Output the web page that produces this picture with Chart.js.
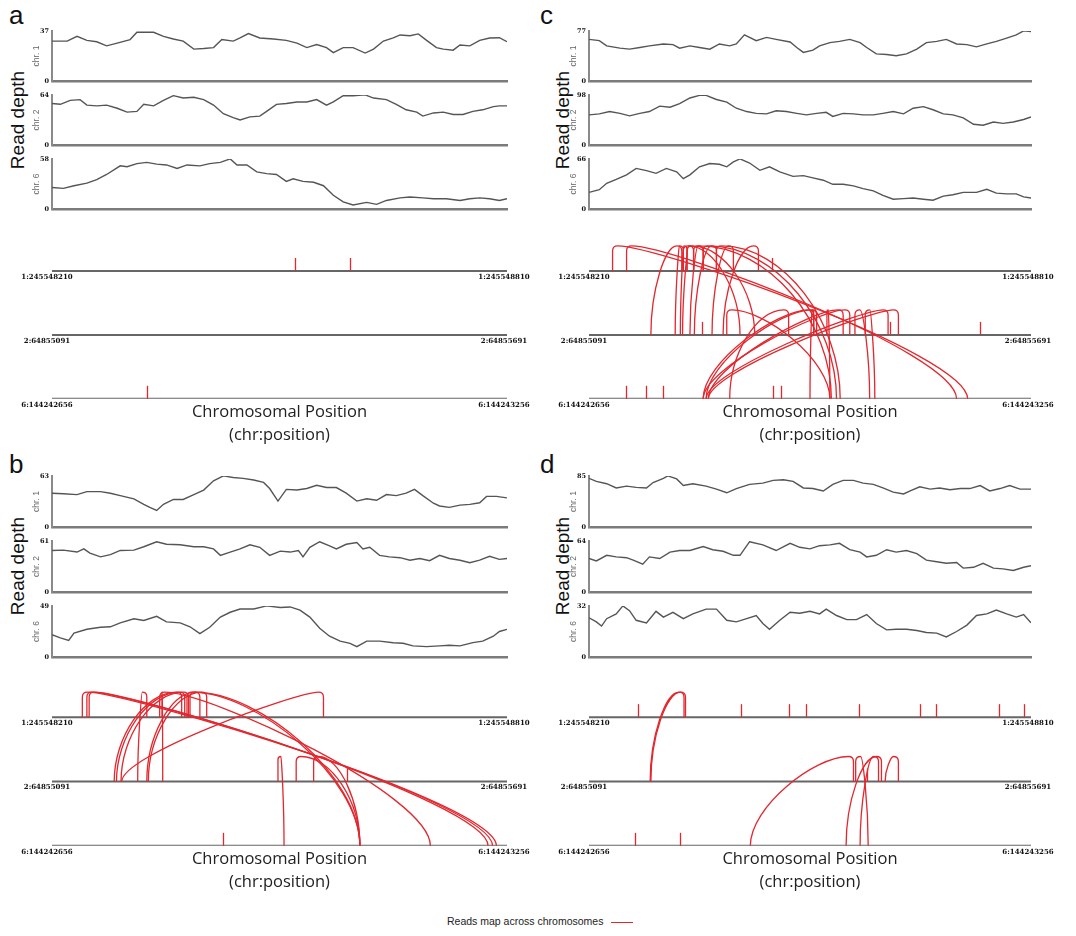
<!DOCTYPE html>
<html><head><meta charset="utf-8">
<script src="https://cdn.jsdelivr.net/npm/chart.js@4/dist/chart.umd.min.js"></script>
<style>
html,body{margin:0;padding:0;background:#fff}
body{width:1076px;height:936px;position:relative;overflow:hidden;font-family:'Liberation Sans',Arial,sans-serif}
canvas{position:absolute}
.plab{position:absolute;font-size:26px;line-height:26px;color:#111}
.rd{position:absolute;font-size:19px;color:#111;white-space:nowrap;transform:translate(-50%,-50%) rotate(-90deg)}
.leg{position:absolute;left:447px;top:915px;font-size:10.5px;color:#222;white-space:nowrap}
.leg span{display:inline-block;width:22px;height:0;border-top:1.5px solid #e3272e;vertical-align:middle;margin-left:8px}
</style></head>
<body>
<div class="plab" style="left:9px;top:2px">a</div>
<div class="plab" style="left:540px;top:2px">c</div>
<div class="plab" style="left:9px;top:451px">b</div>
<div class="plab" style="left:540px;top:451px">d</div>
<div class="rd" style="left:18px;top:120px">Read depth</div>
<div class="rd" style="left:563px;top:120px">Read depth</div>
<div class="rd" style="left:18px;top:566px">Read depth</div>
<div class="rd" style="left:563px;top:566px">Read depth</div>
<div class="leg">Reads map across chromosomes<span></span></div>
<script>
// ---------- data ----------
const chromosomes = [1, 2, 6];
const chrLabels = ['chr. 1', 'chr. 2', 'chr. 6'];
const chrStartLabels = ['1:245548210', '2:64855091', '6:144242656'];
const chrEndLabels = ['1:245548810', '2:64855691', '6:144243256'];
const windowLength = 600; // bp shown per chromosome

const maxA = [37, 64, 58];
const maxB = [63, 61, 49];
const maxC = [77, 98, 66];
const maxD = [85, 64, 32];

// read depth: [offset bp, depth]
const depthA1 = [[0,29.5],[20,29.5],[33,33],[46,30],[59,29],[72,26],[86,28],[103,30.6],[112,36],[134,36],[147,33],[160,31],[173,29.5],[187,23.6],[200,24],[213,24.7],[224,30.6],[239,29.5],[248,31.8],[259,35],[274,31.8],[292,31],[309,30],[323,28],[336,24.7],[349,27],[362,24.7],[371,21],[384,24.7],[397,24.7],[413,20.7],[424,23.6],[437,29.5],[450,31.8],[459,34],[472,33.4],[483,34.8],[494,30],[507,24.7],[516,23.6],[529,22.8],[538,26.6],[551,26],[564,30],[577,31.8],[590,32],[600,29]];
const depthA2 = [[0,53],[11,52],[24,57],[37,58],[46,51],[59,50],[72,51],[86,47],[99,42],[112,43],[121,52],[134,50],[147,57],[160,63],[173,60],[187,61],[200,58],[213,51],[226,40],[239,35],[248,32],[261,36],[274,37],[283,43],[296,52],[309,53],[323,55],[336,55],[349,58],[362,51],[371,55],[384,63],[397,63],[413,64],[424,60],[441,58],[454,52],[467,45],[481,42],[489,37],[503,41],[516,42],[529,39],[542,39],[555,43],[568,45],[582,49],[590,50],[600,50]];
const depthA6 = [[0,25],[15,24],[29,27],[46,30],[59,34],[72,40],[90,50],[99,49],[112,52.5],[125,54],[138,52],[151,51],[165,47],[178,51],[195,50],[208,52.5],[222,54],[235,58],[244,51],[257,51],[270,43],[283,41],[296,40],[309,32],[318,35],[331,32],[345,31],[358,27],[371,16],[384,8.4],[397,4.8],[415,7.7],[428,5.5],[441,10],[459,13],[472,14],[489,13],[503,12],[520,12],[538,10],[551,12],[564,13],[577,12],[590,10],[600,12]];
const depthB1 = [[0,41.7],[15,41],[33,40],[46,43.7],[64,43.7],[77,41.7],[90,38.7],[108,34.8],[121,28],[129,24.3],[138,20.5],[147,28],[160,34],[173,34],[187,40],[200,45.6],[213,57],[226,63],[239,61],[252,60],[266,58],[279,55],[287,47.5],[298,32],[309,46.4],[323,45.6],[336,47.5],[349,51.4],[362,48.7],[375,48.7],[388,41.7],[402,32],[415,34.8],[428,33],[441,40],[454,38.7],[467,41.7],[478,46.4],[489,38.7],[503,29.4],[511,26],[524,24.3],[538,27],[551,28],[564,30],[573,37.8],[586,37.8],[600,36]];
const depthB2 = [[0,49.6],[15,50],[33,47.7],[42,51.5],[50,46.5],[64,42],[77,44.6],[90,49.6],[108,50],[121,54],[138,60],[151,57],[169,56.4],[187,54],[200,54],[213,51.5],[222,43.8],[235,47.7],[248,51.5],[261,56.4],[274,53.4],[287,43.8],[301,48.8],[314,47.7],[325,49.6],[331,42],[340,53.4],[353,60],[366,55],[375,51.5],[388,57],[402,59],[410,51.5],[419,53.4],[432,43.8],[445,42],[459,41],[472,38],[485,40],[498,37.4],[511,43.8],[524,40],[538,38],[551,35],[564,38],[577,42.7],[590,39],[600,40]];
const depthB6 = [[0,21.4],[11,18.4],[22,16],[29,23],[46,26.6],[64,28.5],[77,29],[90,32.8],[108,36.7],[121,35],[138,39],[151,33.7],[169,32.8],[182,29],[195,22.4],[208,28.5],[222,38.3],[235,42.9],[248,46],[266,46],[283,49],[301,47.5],[314,48],[327,45],[340,38.3],[353,27.6],[366,20],[380,15.3],[393,13.2],[402,10],[415,15.3],[432,15.3],[450,13.8],[463,13.2],[476,10.7],[494,10],[511,10.7],[524,11.3],[538,10.7],[555,13.8],[568,15.3],[582,20],[590,24.5],[600,26.6]];
const depthC1 = [[0,64],[14,62],[24,54],[42,50.5],[55,49],[69,51.5],[82,54],[101,57],[114,56],[123,50.5],[137,54],[150,51.5],[164,49],[177,57],[191,54],[200,57],[211,71],[227,62],[241,67],[254,64],[273,60],[282,51.5],[291,44],[304,47.5],[313,54],[327,59],[340,61],[354,64],[368,59],[377,51.5],[390,41.7],[404,40.7],[417,39],[431,41.7],[445,49],[458,59],[472,61],[485,64],[499,57],[513,56],[526,52.5],[540,57],[553,61],[567,66],[580,71],[590,77],[600,76]];
const depthC2 = [[0,59],[14,61],[28,65.5],[42,62],[55,57],[69,62],[82,65.5],[96,76],[110,74],[123,81],[137,92],[150,97],[159,97],[173,89],[187,84],[200,72],[214,65.5],[227,62],[241,61],[254,67],[268,65.5],[282,62],[295,59],[309,62],[322,64],[331,56],[345,62],[359,61],[372,59],[386,59],[399,62],[413,65.5],[427,61],[440,72],[454,75],[467,69],[481,61],[494,59],[508,53],[522,40.6],[535,38.7],[549,45],[562,42.4],[576,45],[590,50],[600,55]];
const depthC6 = [[0,22],[14,25.5],[24,34],[37,39],[51,45],[64,53.5],[78,50.5],[91,47],[105,53.5],[119,49],[128,40],[137,45],[150,55.6],[164,60],[177,59],[187,55.6],[196,62],[205,66],[218,60.6],[232,51],[245,55.6],[259,49],[277,43],[291,44],[304,41],[318,38],[331,32.6],[345,32.6],[359,30.5],[372,27],[386,24],[399,18],[413,13],[427,13.8],[440,14.6],[454,13],[467,11.7],[481,17],[494,18.8],[508,22],[526,22],[540,26],[553,21],[567,20],[580,20],[590,16],[600,14.6]];
const depthD1 = [[0,81],[10,76],[24,72],[37,65],[51,68],[64,66],[78,65],[87,74],[101,81],[107,85],[119,80],[128,69],[141,72],[159,68],[173,63],[187,57],[200,64],[218,71],[236,73],[250,77.5],[264,78.6],[277,76],[291,65],[304,64],[318,60],[331,71],[345,77.5],[359,77.5],[372,73],[386,71],[399,65],[413,58],[427,55],[436,60],[449,67],[463,63],[476,65],[490,62],[504,64],[517,64],[531,69],[544,60],[558,64],[571,69],[585,63],[600,63]];
const depthD2 = [[0,42],[10,39],[24,46],[37,44],[51,43],[60,40],[73,35],[82,44],[96,42],[110,50],[123,52],[137,52],[155,57],[168,53],[182,51],[196,46],[205,46],[218,63],[236,59],[254,52],[273,61],[286,56],[300,54],[313,58],[327,59],[340,61],[354,53],[368,50],[377,44],[390,46],[404,53],[417,50],[431,52],[445,48],[458,40],[472,38],[485,36],[499,37],[508,30],[522,31],[535,36],[549,30],[562,29],[576,27],[590,31],[600,33]];
const depthD6 = [[0,24.6],[10,22],[17,19.4],[24,24],[37,27],[46,32],[55,29],[64,23],[78,21.4],[91,28.6],[101,25],[114,28],[128,24],[141,27],[159,30],[173,30],[187,23],[200,22],[214,24],[227,26],[236,21],[245,17.4],[259,23],[273,28],[286,27.4],[300,28.6],[313,27],[322,30],[336,26],[350,23.4],[363,23.4],[377,26.6],[390,21],[404,17],[417,17.4],[431,17.4],[445,16.6],[458,15.4],[472,15],[485,12.6],[499,16],[513,20],[526,26],[540,27],[553,29.4],[567,27],[580,25],[590,26.6],[600,21.4]];

// reads mapping within a chromosome: [chromosome, offset bp]
const marksA = [[1,320],[1,393],[6,125]];
const marksB = [[2,389],[6,225]];
const marksC = [[1,249],[2,153],[2,409],[2,531],[6,50],[6,77],[6,100],[6,250],[6,260]];
const marksD = [[1,66],[1,206],[1,271],[1,295],[1,367],[1,449],[1,471],[1,557],[1,590],[2,378],[6,62],[6,124]];

// reads mapping across chromosomes: [upper chr, offset, lower chr, offset]
const arcsA = [];
const arcsB = [[1,40,6,586],[1,46,6,581],[1,49,6,575],[1,125,2,113],[1,145,2,146],[1,171,2,82],[1,175,2,85],[1,180,2,91],[1,195,2,125],[1,204,2,127],[1,358,2,92],[1,142,6,499],[1,178,6,406],[1,182,6,406],[2,298,6,306],[2,322,6,406],[2,345,6,406]];
const arcsC = [[1,32,6,514],[1,51,6,499],[1,126,2,84],[1,128,2,117],[1,133,2,124],[1,142,2,127],[1,155,2,137],[1,173,2,143],[1,128,2,205],[1,133,2,225],[1,196,2,167],[1,230,2,182],[1,142,6,329],[1,155,6,336],[1,173,6,341],[2,187,6,327],[2,271,6,191],[2,305,6,155],[2,309,6,159],[2,345,6,162],[2,354,6,155],[2,305,6,300],[2,323,6,327],[2,361,6,381],[2,375,6,388],[2,406,6,159],[2,420,6,162]];
const arcsD = [[1,129,2,83],[1,131,2,84],[2,359,6,219],[2,362,6,379],[2,397,6,349],[2,393,6,368],[2,420,2,402]];

// ---------- layout ----------
const RED = '#e3272e';
const rowValue = {1: 3, 2: 2, 6: 1};
const panels = [
  {plotL: 52, plotR: 507, lineTops: [30, 94, 158], lineH: 52, arcY: 271, arcSp: 64, depth: [depthA1, depthA2, depthA6], max: maxA, arcs: arcsA, marks: marksA},
  {plotL: 52, plotR: 507, lineTops: [475, 540, 605], lineH: 53, arcY: 717, arcSp: 64.5, depth: [depthB1, depthB2, depthB6], max: maxB, arcs: arcsB, marks: marksB},
  {plotL: 589, plotR: 1031, lineTops: [30, 94, 158], lineH: 52, arcY: 271, arcSp: 64, depth: [depthC1, depthC2, depthC6], max: maxC, arcs: arcsC, marks: marksC},
  {plotL: 589, plotR: 1031, lineTops: [475, 540, 605], lineH: 53, arcY: 717, arcSp: 64.5, depth: [depthD1, depthD2, depthD6], max: maxD, arcs: arcsD, marks: marksD}
];

function addCanvas(left, top, w, h) {
  const cv = document.createElement('canvas');
  cv.width = w; cv.height = h;
  cv.style.left = left + 'px'; cv.style.top = top + 'px';
  cv.style.width = w + 'px'; cv.style.height = h + 'px';
  document.body.appendChild(cv);
  return cv;
}

function lineChart(p, i) {
  const max = p.max[i];
  const w = 22 + (p.plotR - p.plotL) + 4, h = p.lineH + 12;
  const cv = addCanvas(p.plotL - 22, p.lineTops[i] - 6, w, h);
  new Chart(cv, {
    type: 'line',
    data: {datasets: [{data: p.depth[i].map(d => ({x: d[0], y: d[1]})), borderColor: '#555555', borderWidth: 1.4, pointRadius: 0, tension: 0, fill: false}]},
    options: {
      responsive: false, animation: false, devicePixelRatio: 1,
      layout: {padding: {top: 6, bottom: 6, left: 0, right: 4}},
      plugins: {legend: {display: false}, tooltip: {enabled: false}},
      scales: {
        x: {type: 'linear', min: 0, max: windowLength, ticks: {display: false}, grid: {display: false, drawTicks: false},
            afterFit: s => { s.height = 0; },
            border: {display: true, color: '#7b7b7b', width: 2.5}},
        y: {type: 'linear', min: 0, max: max,
            afterBuildTicks: s => { s.ticks = [{value: 0}, {value: max}]; },
            afterFit: s => { s.width = 22; },
            ticks: {font: {family: 'DejaVu Serif', weight: 'bold', size: 6.5}, color: '#111', padding: 3},
            grid: {display: false, drawTicks: false}, border: {display: true, color: '#8a8a8a', width: 2},
            title: {display: true, text: chrLabels[i], color: '#666', font: {family: 'Liberation Sans', size: 8.5}, padding: {top: 2, bottom: 0}}}
      }
    }
  });
}

const arcPlugin = {
  id: 'arcs',
  afterDatasetsDraw(chart, args, opts) {
    const {ctx} = chart, xs = chart.scales.x, ys = chart.scales.y;
    ctx.save();
    // chromosome labels
    ctx.font = 'bold 7px "DejaVu Serif"';
    ctx.fillStyle = '#111';
    ctx.textAlign = 'center'; ctx.textBaseline = 'middle';
    chromosomes.forEach((c, i) => {
      const py = ys.getPixelForValue(rowValue[c]);
      ctx.fillText(chrStartLabels[i], xs.getPixelForValue(0) - 5, py + 6);
      ctx.fillText(chrEndLabels[i], xs.getPixelForValue(windowLength) - 3, py + 6);
    });
    ctx.strokeStyle = RED; ctx.lineWidth = 1.3; ctx.lineCap = 'butt';
    // within-chromosome reads
    opts.marks.forEach(([c, pos]) => {
      const x = Math.round(xs.getPixelForValue(pos)) + 0.5, y = ys.getPixelForValue(rowValue[c]);
      ctx.beginPath(); ctx.moveTo(x, y); ctx.lineTo(x, y - 13); ctx.stroke();
    });
    // cross-chromosome reads
    const H = 25;
    opts.arcs.forEach(([cu, pu, cl, pl]) => {
      const xu = xs.getPixelForValue(pu), yu = ys.getPixelForValue(rowValue[cu]);
      const xl = xs.getPixelForValue(pl), yl = ys.getPixelForValue(rowValue[cl]);
      const yt = yu - H;
      const dy = yl - yt;
      const dx = xu - xl, dir = dx >= 0 ? 1 : -1, adx = Math.abs(dx);
      const r = Math.min(5, adx / 2);
      const ratio = adx > 0 ? Math.min(1, dy / adx) : 1;
      const k = 0.25 + 0.25 * ratio * ratio;
      const hv = k * dy;
      const hc = Math.max(r, Math.min(0.55 * adx, k * dy));
      ctx.beginPath();
      ctx.moveTo(xl, yl);
      ctx.bezierCurveTo(xl, yl - hv, xu - dir * hc, yt, xu - dir * r, yt);
      ctx.quadraticCurveTo(xu, yt, xu, yt + r);
      ctx.lineTo(xu, yu);
      ctx.stroke();
    });
    ctx.restore();
  }
};

function arcChart(p) {
  const padT = 5, padB = 4, padL = 40, padR = 30;
  const titleLH = 16.5 * 1.4;
  const titleBox = 2 * titleLH + 2;
  const areaH = 2.5 * p.arcSp;
  const w = padL + (p.plotR - p.plotL) + padR;
  const h = Math.round(padT + areaH + titleBox + padB);
  const cv = addCanvas(p.plotL - padL, Math.round(p.arcY - p.arcSp / 2 - padT), w, h);
  new Chart(cv, {
    type: 'line',
    data: {datasets: chromosomes.map(c => ({data: [{x: 0, y: rowValue[c]}, {x: windowLength, y: rowValue[c]}], borderColor: '#666', borderWidth: 2, pointRadius: 0}))},
    options: {
      responsive: false, animation: false, devicePixelRatio: 1,
      layout: {padding: {top: padT, bottom: padB, left: padL, right: padR}},
      plugins: {legend: {display: false}, tooltip: {enabled: false}, arcs: {arcs: p.arcs, marks: p.marks}},
      scales: {
        x: {type: 'linear', min: 0, max: windowLength, ticks: {display: false}, grid: {display: false, drawTicks: false}, border: {display: false},
            afterFit: s => { s.height = titleBox; },
            title: {display: true, text: ['Chromosomal Position', '(chr:position)'], color: '#222',
                    font: {family: 'Open Sans', size: 16.5, lineHeight: 1.4}, padding: {top: 2, bottom: 0}}},
        y: {type: 'linear', min: 1, max: 3.5, display: false}
      }
    },
    plugins: [arcPlugin]
  });
}

panels.forEach(p => {
  [0, 1, 2].forEach(i => lineChart(p, i));
  arcChart(p);
});
</script>
</body></html>
